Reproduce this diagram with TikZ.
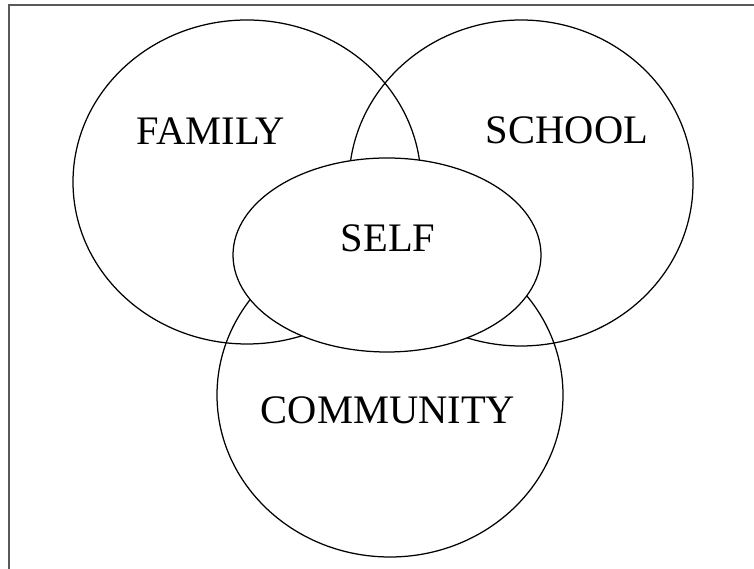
\documentclass[tikz,border=0pt]{standalone}
\usepackage{fontspec}
\setmainfont{Liberation Serif}
\usetikzlibrary{shapes.geometric}

\begin{document}
\begin{tikzpicture}[x=1pt,y=1pt,
  sphere/.style = {draw,ellipse,inner sep=0pt,line width=1.25pt},
  word/.style = {font=\fontsize{40.5}{40.5}\selectfont,inner sep=0pt}]

\useasboundingbox (0,0) rectangle (754,569);

% frame, only two sides show
\draw[line width=2pt,black!65] (9,-10) -- (9,564) -- (770,564);

\node[sphere,minimum width=348,minimum height=324] (family) at (247,387) {};
\node[sphere,minimum width=344,minimum height=326] (school) at (521,386) {};
\node[sphere,minimum width=346,minimum height=324] (community) at (390,174) {};
\node[sphere,fill=white,minimum width=308,minimum height=194] (self) at (387,314) {};

\node[word] (familytxt) at (211,438) {FAMILY};
\node[word] (schooltxt) at (567,439) {SCHOOL};
\node[word] (selftxt) at (388,331) {SELF};
\node[word] (communitytxt) at (388,159) {COMMUNITY};

\end{tikzpicture}
\end{document}
